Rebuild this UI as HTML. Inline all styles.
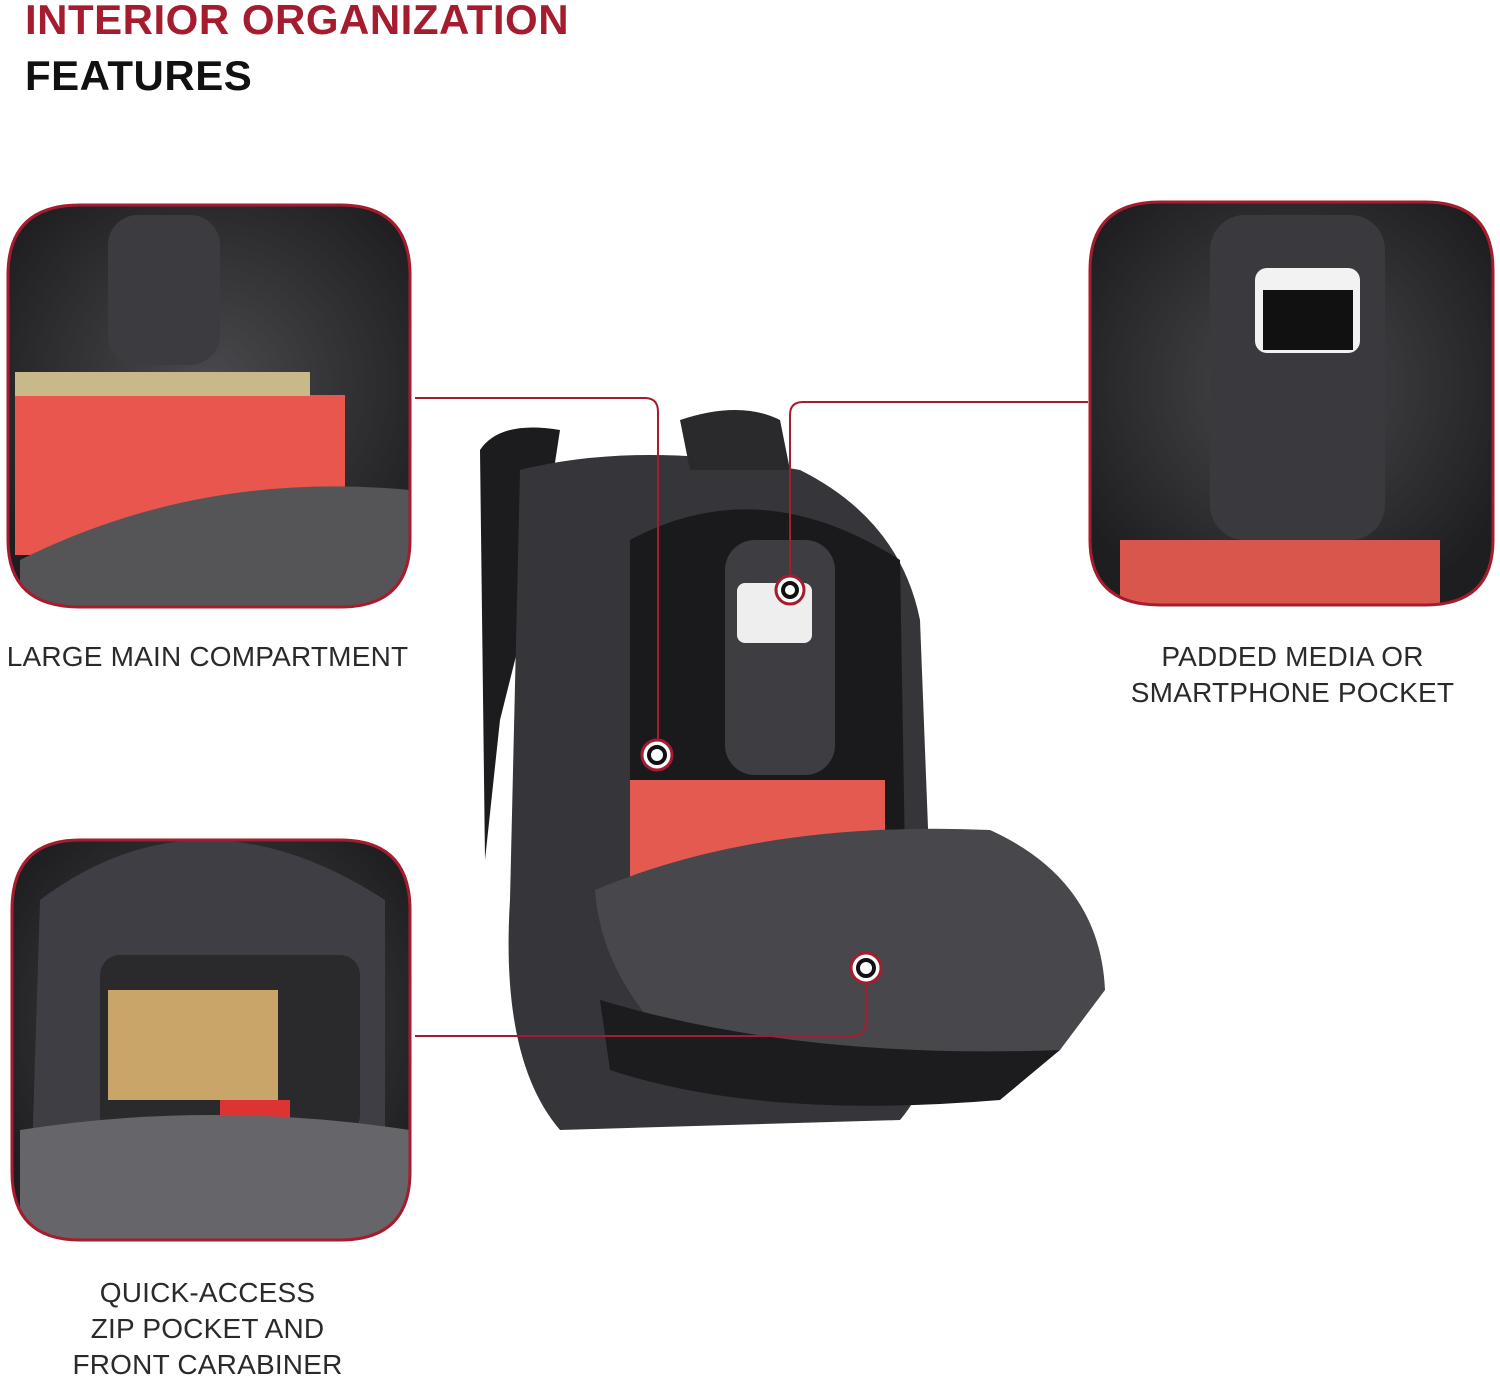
<!DOCTYPE html>
<html><head><meta charset="utf-8">
<style>
html,body{margin:0;padding:0;background:#fff;}
body{width:1500px;height:1379px;position:relative;overflow:hidden;font-family:"Liberation Sans",sans-serif;}
.t{position:absolute;font-weight:bold;font-size:42px;letter-spacing:0.5px;}
.lab{position:absolute;font-size:28px;color:#2a2a2a;text-align:center;line-height:36px;letter-spacing:0.2px;}
svg{position:absolute;left:0;top:0;}
</style></head><body>
<svg width="1500" height="1379" viewBox="0 0 1500 1379">
<defs>
<radialGradient id="g1" cx="50%" cy="45%" r="60%"><stop offset="0" stop-color="#4a4a4e"/><stop offset="1" stop-color="#1e1e20"/></radialGradient>
<clipPath id="c1"><path d="M80,205 H340 Q410,205 410,275 V540 Q410,607 340,607 H80 Q8,607 8,540 V275 Q8,205 80,205Z"/></clipPath>
<clipPath id="c2"><path d="M1160,202 H1425 Q1493,202 1493,270 V540 Q1493,605 1425,605 H1160 Q1090,605 1090,540 V270 Q1090,202 1160,202Z"/></clipPath>
<clipPath id="c3"><path d="M80,840 H340 Q410,840 410,910 V1172 Q410,1240 340,1240 H80 Q12,1240 12,1172 V910 Q12,840 80,840Z"/></clipPath>
</defs>
<g clip-path="url(#c1)">
<rect x="0" y="200" width="420" height="410" fill="url(#g1)"/>
<rect x="108" y="215" width="112" height="150" rx="30" fill="#3c3c40"/>
<rect x="15" y="395" width="330" height="160" fill="#e8564e"/>
<rect x="15" y="372" width="295" height="24" fill="#c9b98a"/>
<path d="M20,560 Q200,470 410,490 L410,610 L20,610Z" fill="#555558"/>
</g>
<path d="M80,205 H340 Q410,205 410,275 V540 Q410,607 340,607 H80 Q8,607 8,540 V275 Q8,205 80,205Z" fill="none" stroke="#a51c2e" stroke-width="3"/>
<g clip-path="url(#c2)">
<rect x="1085" y="200" width="410" height="410" fill="url(#g1)"/>
<rect x="1210" y="215" width="175" height="325" rx="35" fill="#3a3a3e"/>
<rect x="1255" y="268" width="105" height="85" rx="12" fill="#f2f2f2"/>
<rect x="1263" y="290" width="90" height="60" fill="#111"/>
<rect x="1120" y="540" width="320" height="70" fill="#d9564c"/>
</g>
<path d="M1160,202 H1425 Q1493,202 1493,270 V540 Q1493,605 1425,605 H1160 Q1090,605 1090,540 V270 Q1090,202 1160,202Z" fill="none" stroke="#a51c2e" stroke-width="3"/>
<g clip-path="url(#c3)">
<rect x="10" y="835" width="405" height="410" fill="url(#g1)"/>
<path d="M40,900 Q200,780 385,900 V1220 H30Z" fill="#3e3e44"/>
<rect x="100" y="955" width="260" height="180" rx="20" fill="#2a2a2c"/>
<rect x="108" y="990" width="170" height="110" fill="#c9a56a"/>
<rect x="220" y="1100" width="70" height="30" fill="#d33"/>
<path d="M20,1130 Q210,1100 410,1130 V1245 H20Z" fill="#66666a"/>
</g>
<path d="M80,840 H340 Q410,840 410,910 V1172 Q410,1240 340,1240 H80 Q12,1240 12,1172 V910 Q12,840 80,840Z" fill="none" stroke="#a51c2e" stroke-width="3"/>
<!-- backpack -->
<path d="M480,450 Q500,420 560,430 L540,560 L500,720 L485,860 Z" fill="#1c1c1e"/>
<path d="M520,470 Q640,440 800,470 Q900,520 920,620 L930,880 Q960,1050 900,1120 L560,1130 Q500,1060 510,900 Z" fill="#35353a"/>
<path d="M680,420 Q740,400 780,420 L790,470 L690,470Z" fill="#2a2a2d"/>
<path d="M630,540 Q760,470 900,560 L905,860 L630,860Z" fill="#1a1a1c"/>
<rect x="725" y="540" width="110" height="235" rx="30" fill="#3e3e42"/>
<rect x="737" y="583" width="75" height="60" rx="8" fill="#eee"/>
<rect x="630" y="780" width="255" height="110" fill="#e55a50"/>
<path d="M595,890 Q760,820 990,830 Q1100,880 1105,990 L1060,1050 Q860,1080 650,1020 Q600,960 595,890Z" fill="#48484c"/>
<path d="M600,1000 Q800,1060 1060,1050 L1000,1100 Q760,1120 610,1070Z" fill="#1c1c1e"/>
<!-- connectors -->
<g fill="none" stroke="#a51c2e" stroke-width="2">
<path d="M415,398 H645 Q658,398 658,412 V740"/>
<path d="M1088,402 H803 Q790,402 790,415 V578"/>
<path d="M415,1036 H852 Q866,1036 866,1022 V982"/>
</g>
<g fill="#fff" stroke="#a51c2e" stroke-width="3">
<circle cx="657" cy="755" r="15"/><circle cx="790" cy="590" r="14"/><circle cx="866" cy="968" r="15"/>
</g>
<g fill="none" stroke="#111" stroke-width="4">
<circle cx="657" cy="755" r="8"/><circle cx="790" cy="590" r="7"/><circle cx="866" cy="968" r="8"/>
</g>
</svg>
<div class="t" style="left:25px;top:-4px;color:#a51c2e;">INTERIOR ORGANIZATION</div>
<div class="t" style="left:25px;top:52px;color:#111;">FEATURES</div>
<div class="lab" style="left:0;width:415px;top:639px;">LARGE MAIN COMPARTMENT</div>
<div class="lab" style="left:1090px;width:405px;top:639px;">PADDED MEDIA OR<br>SMARTPHONE POCKET</div>
<div class="lab" style="left:0;width:415px;top:1275px;">QUICK-ACCESS<br>ZIP POCKET AND<br>FRONT CARABINER</div>
</body></html>
